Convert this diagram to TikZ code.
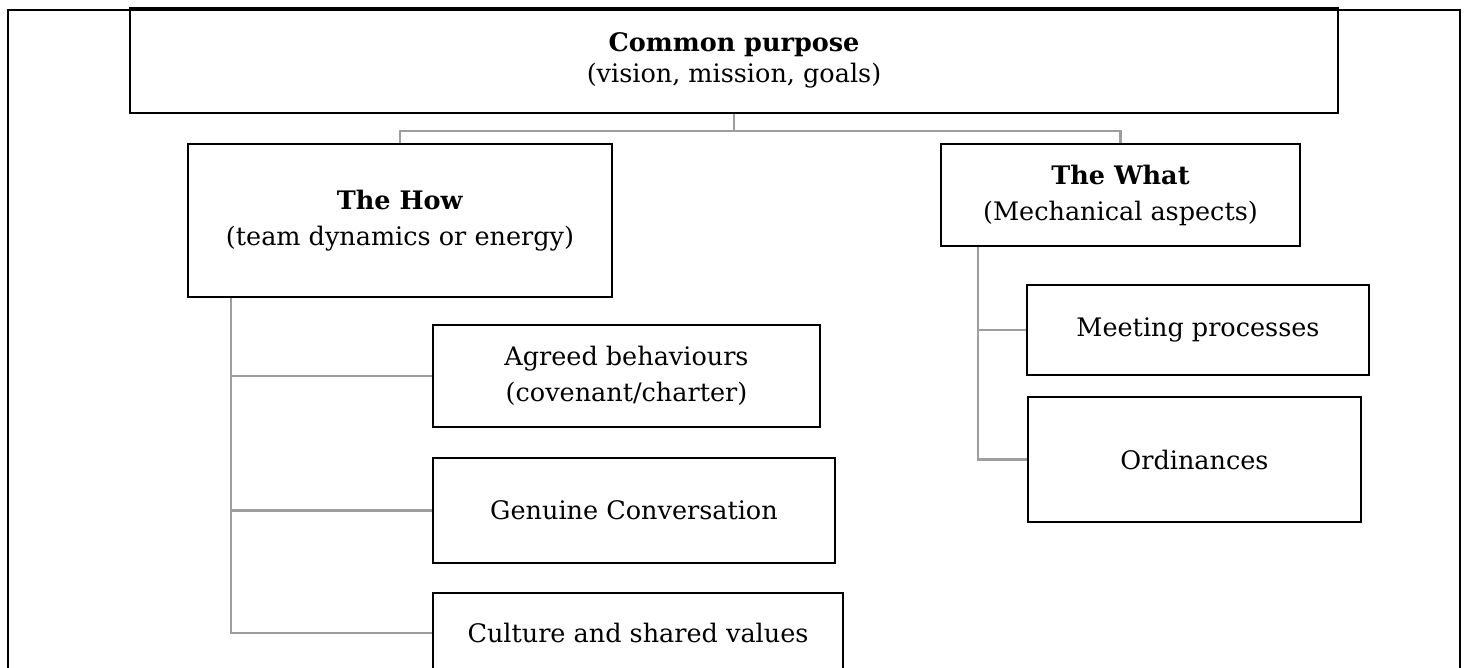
\documentclass[tikz,border=0pt]{standalone}
\usepackage{fontspec}
\setmainfont{DejaVu Serif}
\usetikzlibrary{positioning}
\tikzset{
  box/.style={draw=black, line width=1.6pt, align=center, inner sep=0pt,
    font=\fontsize{25.5}{36}\selectfont},
  link/.style={draw=black!38, line width=2.2pt}
}
\begin{document}
\begin{tikzpicture}[x=1pt, y=-1pt]
\useasboundingbox (0,0) rectangle (1467,668);
% Outer frame (bottom edge runs off the page)
\draw[line width=1.5pt] (8,680) -- (8,10) -- (1460,10) -- (1460,680);
% Boxes
\node[box, font=\fontsize{25.5}{31}\selectfont, minimum width=1208pt, minimum height=105pt] (purpose) at (734,60.5)
  {\textbf{Common purpose}\\(vision, mission, goals)};
\node[box, minimum width=424pt, minimum height=153pt] (how) at (400,220.5)
  {\textbf{The How}\\(team dynamics or energy)};
\node[box, minimum width=359pt, minimum height=102pt] (what) at (1120.5,195)
  {\textbf{The What}\\(Mechanical aspects)};
\node[box, minimum width=387pt, minimum height=102pt] (agreed) at (626.5,376)
  {Agreed behaviours\\(covenant/charter)};
\node[box, minimum width=402pt, minimum height=105pt] (genuine) at (634,510.5)
  {Genuine Conversation};
\node[box, minimum width=410pt, minimum height=80pt] (culture) at (638,633)
  {Culture and shared values};
\node[box, minimum width=342pt, minimum height=90pt] (meeting) at (1198,330)
  {Meeting processes};
\node[box, minimum width=333pt, minimum height=125pt] (ordin) at (1194.5,459.5)
  {Ordinances};
% Connectors
\path (purpose.south) ++(0,17) coordinate (bar);
\draw[link] (purpose.south) -- (bar) -| (how.north);
\draw[link] (bar) -| (what.north);
\draw[link] ([xshift=44pt]how.south west) |- (agreed.west);
\draw[link] ([xshift=44pt]how.south west) |- (genuine.west);
\draw[link] ([xshift=44pt]how.south west) |- (culture.west);
\draw[link] ([xshift=38pt]what.south west) |- (meeting.west);
\draw[link] ([xshift=38pt]what.south west) |- (ordin.west);
\end{tikzpicture}
\end{document}
